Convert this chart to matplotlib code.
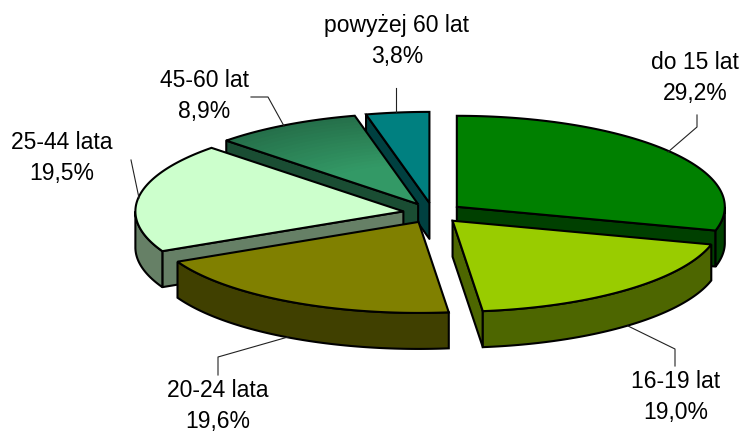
import numpy as np
import matplotlib
matplotlib.use("Agg")
import matplotlib.pyplot as plt
from matplotlib.patches import Polygon

labels = ["do 15 lat", "16-19 lat", "20-24 lata", "25-44 lata", "45-60 lat", "powyżej 60 lat"]
values = [29.2, 19.0, 19.6, 19.5, 8.9, 3.8]
percent_text = ["29,2%", "19,0%", "19,6%", "19,5%", "8,9%", "3,8%"]
top_colors = ["#008000", "#99CC00", "#808000", "#CCFFCC", "#339966", "#008080"]
side_colors = ["#004000", "#4D6600", "#404000", "#668066", "#1A4D33", "#004040"]

plt.rcParams["font.family"] = ["Liberation Sans", "DejaVu Sans"]

# geometry of the pie, in pixels
cx, cy = 433, 213
rx, ry = 268, 91
depth = 36
explode = 30
edge = 1.5

# where each label goes and its leader line
label_pos = [(695, 78), (676, 397), (218, 406), (62, 158), (204, 96), (397, 41)]
leaders = [
    [(668, 152), (697, 127), (697, 115)],
    [(628, 326), (675, 349), (675, 366)],
    [(288, 337), (218, 357), (218, 375)],
    [(139, 198), (131, 160)],
    [(284, 126), (268, 97), (251, 97)],
    [(396, 112), (396, 88)],
]

fig = plt.figure(figsize=(7.44, 4.33), dpi=100)
ax = fig.add_axes([0, 0, 1, 1])
ax.set_xlim(0, 744)
ax.set_ylim(433, 0)
ax.axis("off")

total = sum(values)
ends = np.cumsum(values) / total * 2 * np.pi
starts = ends - np.array(values) / total * 2 * np.pi


def rim(x0, y0, a, b, scale=1.0):
    t = np.linspace(a, b, 80)
    return np.column_stack([x0 + scale * rx * np.sin(t), y0 - scale * ry * np.cos(t)])


def blend(c1, c2, f):
    c1 = np.array(matplotlib.colors.to_rgb(c1))
    c2 = np.array(matplotlib.colors.to_rgb(c2))
    return tuple(c1 + (c2 - c1) * f)


# back slices first, the front ones paint over them
order = [5, 4, 3, 0, 2, 1]
z = 2
for i in order:
    a, b = starts[i], ends[i]
    mid = (a + b) / 2
    x0 = cx + explode * np.sin(mid)
    y0 = cy - explode * ry / rx * np.cos(mid)
    arc = rim(x0, y0, a, b)
    down = np.array([0, depth])
    tip = np.array([x0, y0])

    # cut walls, only those facing the viewer
    cuts = []
    if np.sin(a) < -1e-9:
        cuts.append(arc[0])
    if np.sin(b) > 1e-9:
        cuts.append(arc[-1])
    for p in cuts:
        ax.add_patch(Polygon([tip, p, p + down, tip + down], fc=side_colors[i],
                             ec="black", lw=edge, joinstyle="round", zorder=z))
    # only the front half of the rim has a visible wall
    lo, hi = max(a, np.pi / 2), min(b, 3 * np.pi / 2)
    if lo < hi:
        front = rim(x0, y0, lo, hi)
        wall = np.vstack([front, (front + down)[::-1]])
        ax.add_patch(Polygon(wall, fc=side_colors[i], ec="black", lw=edge, zorder=z))

    # top face
    if i == 4:
        # this slice is shaded, darker at the rim
        for s in np.linspace(1, 0.05, 30):
            c = blend("#25704A", top_colors[i], min(1, (1 - s) / 0.55))
            pts = np.vstack([tip, rim(x0, y0, a, b, s)])
            ax.add_patch(Polygon(pts, fc=c, ec="none", zorder=z))
        ax.add_patch(Polygon(np.vstack([tip, arc]), fc="none", ec="black", lw=edge, zorder=z))
    else:
        ax.add_patch(Polygon(np.vstack([tip, arc]), fc=top_colors[i], ec="black", lw=edge, zorder=z))
    z += 1

for i in range(len(labels)):
    xs, ys = zip(*leaders[i])
    ax.plot(xs, ys, color="#222222", lw=0.8, zorder=20)
    ax.text(label_pos[i][0], label_pos[i][1], labels[i] + "\n" + percent_text[i],
            ha="center", va="center", fontsize=16.5, linespacing=1.4, color="black", zorder=21)

fig.savefig("out.png", dpi=100, facecolor="white")
